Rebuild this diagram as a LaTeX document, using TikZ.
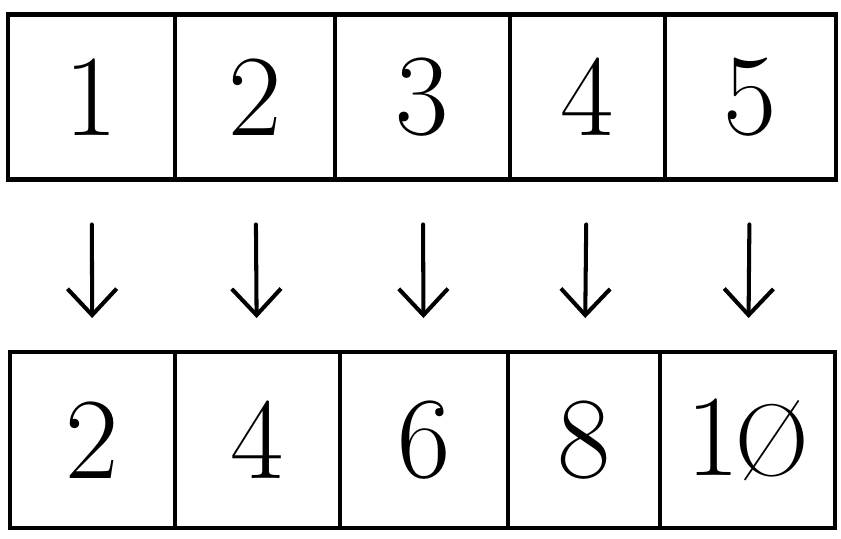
\documentclass[tikz,border=0pt]{standalone}
\usepackage{fontspec}
\usepackage{tikz}
\usetikzlibrary{arrows.meta}

\begin{document}
\begin{tikzpicture}[
  x=0.02cm, y=-0.02cm,
  cell/.style={rectangle, draw, line width=2.3pt, inner sep=0pt, outer sep=0pt,
               font=\fontsize{66}{70}\selectfont},
  arrow/.style={-{Straight Barb[length=15pt,width=28pt,line width=2.3pt]},
                line width=2.3pt, line cap=round, shorten <=0.9cm, shorten >=0.68cm}
]
  \useasboundingbox (0,0) rectangle (841,538);

  % input row
  \node[cell, minimum width=3.34cm, minimum height=3.3cm] (t1) at (91.5,97) {1};
  \node[cell, minimum width=3.20cm, minimum height=3.3cm] (t2) at (255,97) {2};
  \node[cell, minimum width=3.50cm, minimum height=3.3cm] (t3) at (422.5,97) {3};
  \node[cell, minimum width=3.10cm, minimum height=3.3cm] (t4) at (587.5,97) {4};
  \node[cell, minimum width=3.42cm, minimum height=3.3cm] (t5) at (750.5,97) {5};

  % output row
  \node[cell, minimum width=3.30cm, minimum height=3.52cm] (b1) at (92.5,440) {2};
  \node[cell, minimum width=3.30cm, minimum height=3.52cm] (b2) at (257.5,440) {4};
  \node[cell, minimum width=3.36cm, minimum height=3.52cm] (b3) at (424,440) {6};
  \node[cell, minimum width=3.04cm, minimum height=3.52cm] (b4) at (584,440) {8};
  \node[cell, minimum width=3.50cm, minimum height=3.52cm] (b5) at (747.5,440)
    {1\kern-0.04em{\fontsize{58}{60}\selectfont Ø}};

  \foreach \i in {1,...,5}
    \draw[arrow] (t\i) -- (b\i);
\end{tikzpicture}
\end{document}
